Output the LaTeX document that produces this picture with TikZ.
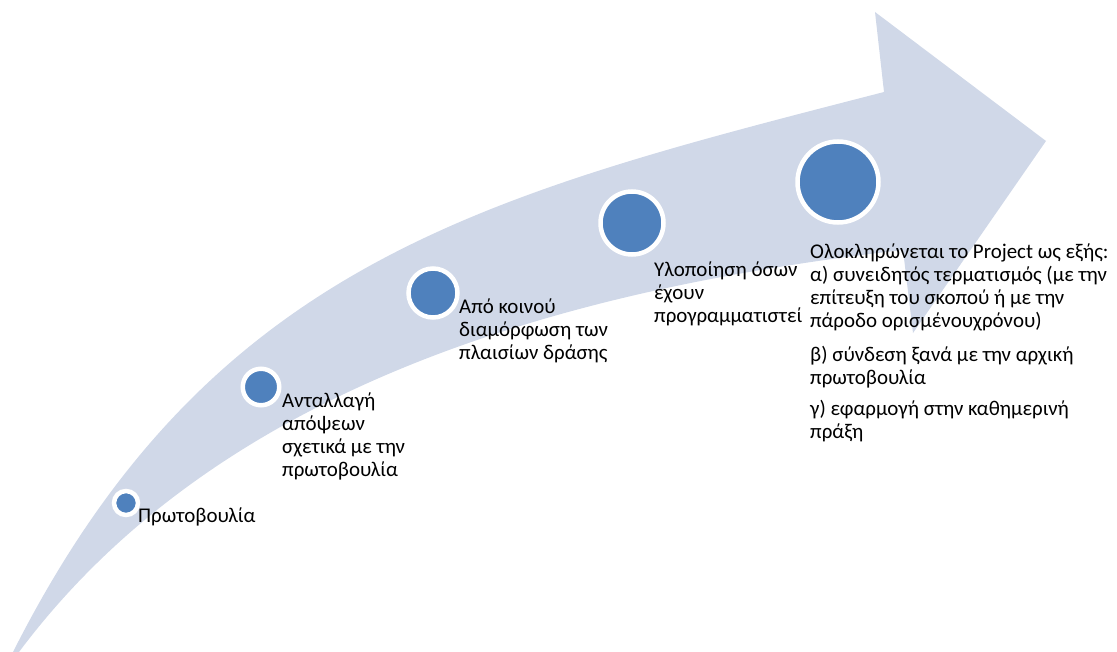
\documentclass[tikz,border=0pt]{standalone}
\usepackage{fontspec}
\setmainfont{Carlito}
\definecolor{arrowfill}{HTML}{D0D8E8}
\definecolor{dotblue}{HTML}{4F81BD}
\begin{document}
\begin{tikzpicture}[x=1bp,y={(0bp,-1bp)},
  dot/.style={circle, fill=dotblue, draw=white, line width=4.5bp, inner sep=0pt},
  lbl/.style={anchor=base west, inner sep=0pt, align=left, font=\fontsize{21}{23.2}\selectfont}]
\useasboundingbox (0,0) rectangle (1117,652);
% curved arrow
\fill[arrowfill] (13,652) .. controls (210,262) and (484,195) .. (884,92)
  -- (875,12) -- (1046,141) -- (913,333) -- (903,250)
  .. controls (553,290) and (215,390) .. (19,652) -- cycle;
% dots
\node[dot, minimum size=24bp] (d1) at (126,503) {};
\node[dot, minimum size=36.5bp] (d2) at (261,387) {};
\node[dot, minimum size=49bp] (d3) at (433,293) {};
\node[dot, minimum size=63bp] (d4) at (632,223) {};
\node[dot, minimum size=81bp] (d5) at (838,182) {};
% labels (anchor is the baseline of the last line)
\node[lbl] (t1) at (138,522) {Πρωτοβουλία};
\node[lbl] (t2) at (282,476.6) {Ανταλλαγή\\απόψεων\\σχετικά με την\\πρωτοβουλία};
\node[lbl] (t3) at (459,359.4) {Από κοινού\\διαμόρφωση των\\πλαισίων δράσης};
\node[lbl] (t4) at (654,322.4) {Υλοποίηση όσων\\έχουν\\προγραμματιστεί};
\node[lbl] (t5) at (810,438.4) {Ολοκληρώνεται το Project ως εξής:\\α) συνειδητός τερματισμός (με την\\επίτευξη του σκοπού ή με την\\πάροδο ορισμένουχρόνου)\\[10bp]β) σύνδεση ξανά με την αρχική\\πρωτοβουλία\\[8bp]γ) εφαρμογή στην καθημερινή\\πράξη};
\end{tikzpicture}
\end{document}
